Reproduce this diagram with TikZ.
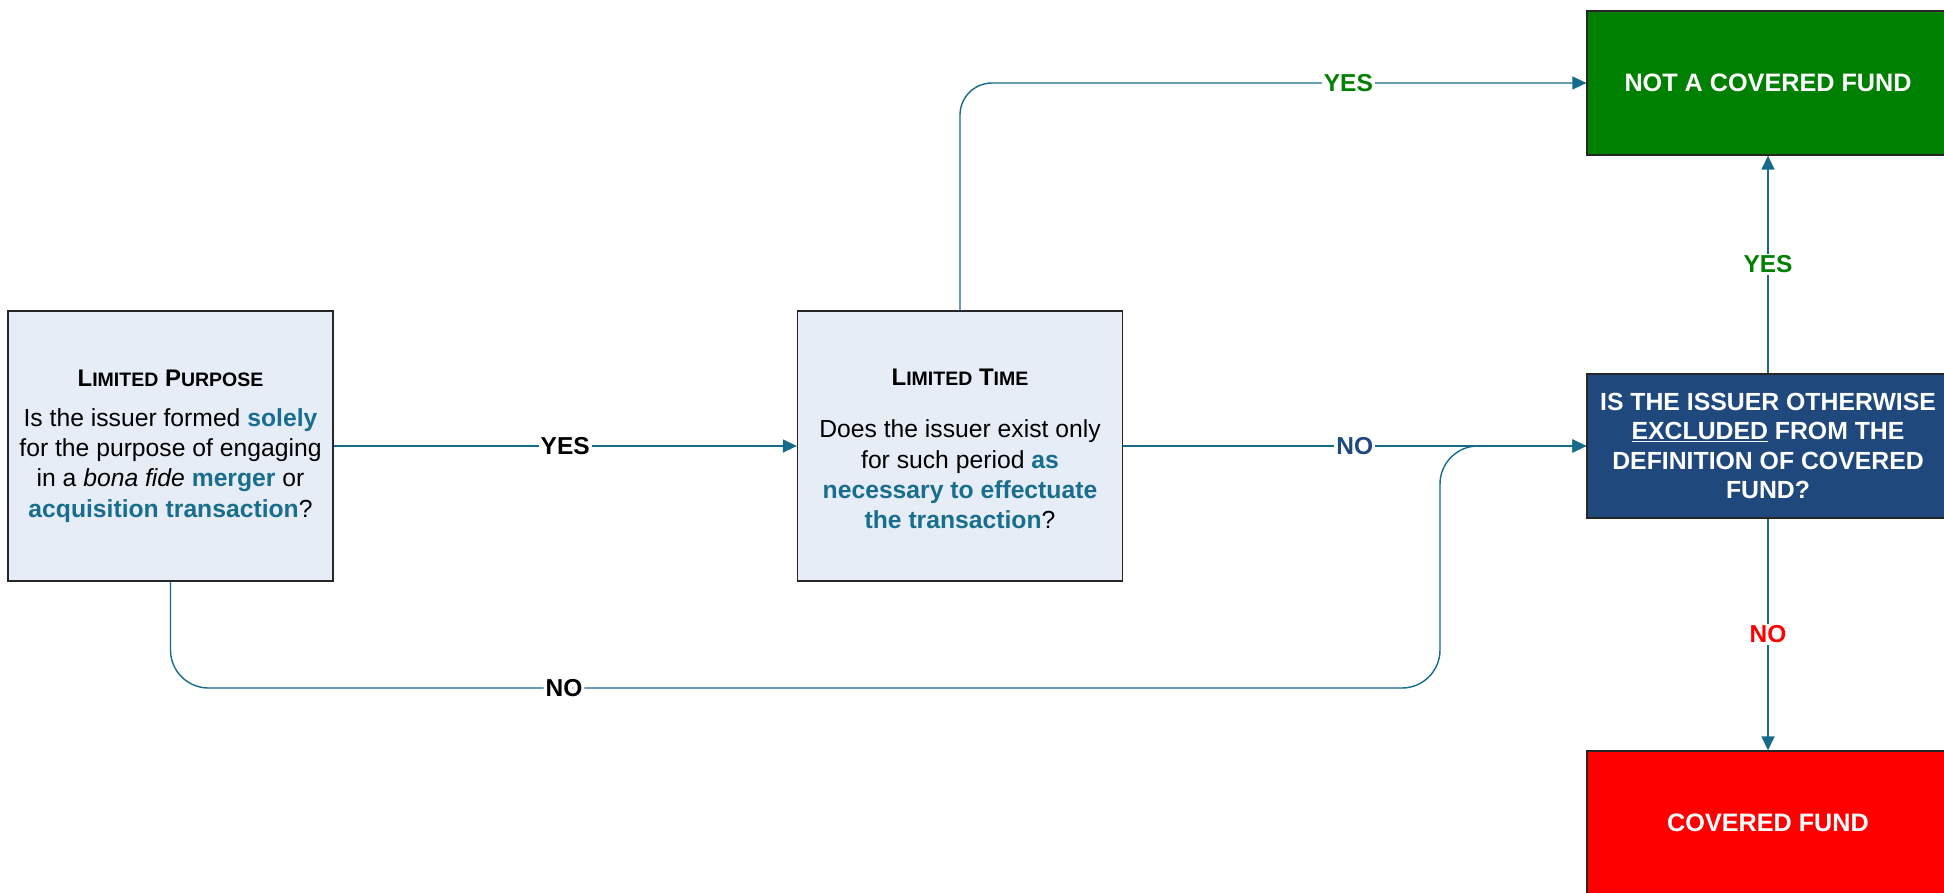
\documentclass[tikz,border=0pt]{standalone}
\usepackage{fontspec}
\setmainfont{Liberation Sans}
\usetikzlibrary{arrows.meta}
\definecolor{linkc}{RGB}{22,106,138}
\definecolor{hl}{RGB}{24,110,140}
\definecolor{qfill}{RGB}{231,237,247}
\definecolor{navy}{RGB}{31,73,125}
\definecolor{okgreen}{RGB}{0,128,0}
\newcommand\tcaps[1]{{\fontsize{19.5}{22}\selectfont #1}}
\newcommand\hlt[1]{\textcolor{hl}{\textbf{#1}}}
\tikzset{
  qbox/.style={draw=black!85, line width=1.3pt, fill=qfill, minimum width=325pt,
    minimum height=270pt, align=center, inner sep=0pt, font=\fontsize{24.7}{30.2}\selectfont},
  qtext/.style={align=center, inner sep=0pt, font=\fontsize{24.7}{30.2}\selectfont},
  rbox/.style={draw=black!85, line width=1.3pt, minimum width=362pt, minimum height=144pt,
    align=center, inner sep=0pt, text=white, font=\bfseries\fontsize{24.8}{29.5}\selectfont},
  conn/.style={draw=linkc, line width=1.4pt, -{Triangle[length=14pt,width=13pt]}},
  lbl/.style={fill=white, inner sep=2pt, font=\bfseries\fontsize{24.5}{27}\selectfont}
}
\begin{document}
\begin{tikzpicture}[x=1pt,y=-1pt]
\useasboundingbox (0,0) rectangle (1944,893);

% question boxes
\node[qbox] (lp) at (170.5,446) {%
  \textbf{\fontsize{24}{26}\selectfont L\tcaps{IMITED} P\tcaps{URPOSE}}\\[10pt]
  Is the issuer formed \hlt{solely}\\
  for the purpose of engaging\\
  in a \textit{bona fide} \hlt{merger} or\\
  \hlt{acquisition transaction}?};
\node[qbox] (lt) at (960,446) {};
\node[qtext] (lttxt) at ([yshift=-3pt]lt.center) {%
  \textbf{\fontsize{24}{26}\selectfont L\tcaps{IMITED} T\tcaps{IME}}\\[22pt]
  Does the issuer exist only\\
  for such period \hlt{as}\\
  \hlt{necessary to effectuate}\\
  \hlt{the transaction}?};

% outcome and exclusion boxes
\node[rbox, fill=okgreen, font=\bfseries\fontsize{25.2}{28}\selectfont] (nc) at (1768,83) {NOT A COVERED FUND};
\node[rbox, fill=navy] (ex) at (1768,446) {IS THE ISSUER OTHERWISE\\
  \underline{EXCLUDED} FROM THE\\ DEFINITION OF COVERED\\ FUND?};
\node[rbox, fill=red, font=\bfseries\fontsize{25.2}{28}\selectfont] (cf) at (1768,823) {COVERED FUND};

% connectors
\coordinate (jog) at (1440,688);
\draw[conn] (lp.east) -- node[lbl]{YES} (lt.west);
\draw[conn] (lt.east) -- node[lbl, text=navy]{NO} (ex.west);
\draw[conn, rounded corners=32pt] (lt.north) |- node[lbl, pos=0.81, text=okgreen]{YES} (nc.west);
\draw[conn, rounded corners=38pt] (lp.south) |- node[lbl, pos=0.655]{NO} (jog) -- (jog |- ex.west) -- (ex.west);
\draw[conn] (ex.north) -- node[lbl, text=okgreen]{YES} (nc.south);
\draw[conn] (ex.south) -- node[lbl, text=red]{NO} (cf.north);
\end{tikzpicture}
\end{document}
